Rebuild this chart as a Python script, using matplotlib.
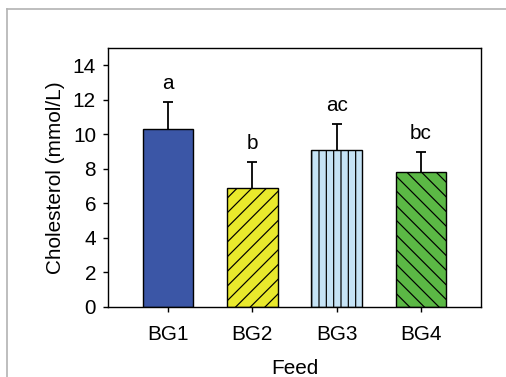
import matplotlib
matplotlib.use("Agg")
import matplotlib.pyplot as plt
from matplotlib.lines import Line2D

DPI = 88
W, H = 506, 377


def pt(px):
    """Convert a size in output pixels to points at the chosen dpi."""
    return px * 72.0 / DPI


plt.rcParams['font.family'] = ['Liberation Sans', 'DejaVu Sans']
plt.rcParams['hatch.linewidth'] = pt(1.2)

feeds = ["BG1", "BG2", "BG3", "BG4"]
cholesterol = [10.3, 6.9, 9.1, 7.8]
sd = [1.6, 1.5, 1.5, 1.2]
letters = ["a", "b", "ac", "bc"]
colors = ["#3b56a6", "#e9e92c", "#c5e3f6", "#5bb845"]
hatches = ["", "//", "||", "\\\\"]

FS = pt(20.8)

fig = plt.figure(figsize=(W / DPI, H / DPI), dpi=DPI)
ax = fig.add_axes([108 / W, 70 / H, 373 / W, 259 / H])

x = range(len(feeds))
# error bars sit behind the opaque bars, so only the upper half shows
ax.errorbar(x, cholesterol, yerr=sd, fmt="none", ecolor="black",
            elinewidth=pt(1.8), capsize=pt(4.8), capthick=pt(1.8), zorder=1)
bars = ax.bar(x, cholesterol, width=0.6, color=colors, edgecolor="black",
              linewidth=pt(1.4), zorder=2)
for b, h in zip(bars, hatches):
    b.set_hatch(h)

for xi, v, e, lab in zip(x, cholesterol, sd, letters):
    ax.text(xi, v + e + 0.5, lab, ha="center", va="bottom", fontsize=FS)

ax.set_xlim(-0.71, 3.71)
ax.set_ylim(0, 15)
ax.set_yticks(range(0, 15, 2))
ax.set_xticks(list(x))
ax.set_xticklabels(feeds)
ax.tick_params(axis="both", direction="out", length=pt(5), width=pt(1.4),
               labelsize=FS)
ax.tick_params(axis="x", pad=pt(12.5))
ax.tick_params(axis="y", pad=pt(7))
for s in ax.spines.values():
    s.set_linewidth(pt(1.4))

ax.set_xlabel("Feed", fontsize=FS, labelpad=pt(15))
ax.set_ylabel("Cholesterol (mmol/L)", fontsize=FS, labelpad=pt(8))

# outer frame lines
fig.add_artist(Line2D([7 / W, 1.0], [1 - 9 / H, 1 - 9 / H],
                      transform=fig.transFigure, color="#b4b4b4",
                      linewidth=pt(1.7)))
fig.add_artist(Line2D([7 / W, 7 / W], [0, 1 - 9 / H],
                      transform=fig.transFigure, color="#b4b4b4",
                      linewidth=pt(1.7)))

fig.savefig("out.png", dpi=DPI)
